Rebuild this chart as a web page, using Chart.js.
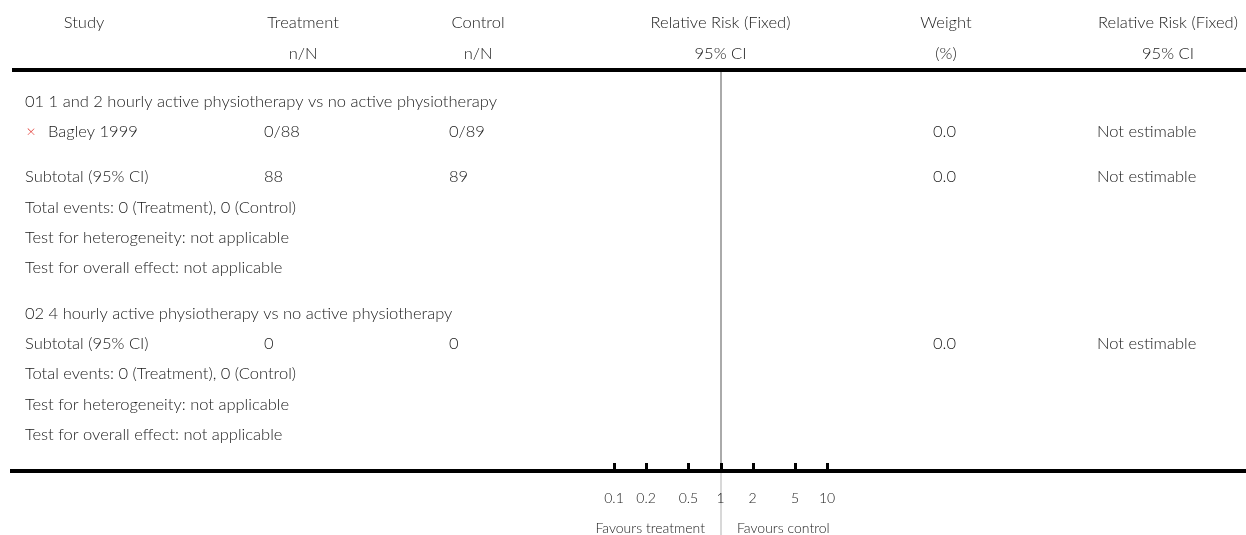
<!DOCTYPE html>
<html>
<head>
<meta charset="utf-8">
<script src="https://cdn.jsdelivr.net/npm/chart.js@4/dist/chart.umd.min.js"></script>
<style>
  html, body { margin: 0; padding: 0; background: #fff; }
  #wrap { width: 1246px; height: 535px; position: relative; }
</style>
</head>
<body>
<div id="wrap"><canvas id="c" width="1246" height="535"></canvas></div>
<script>
// ---- Data ----
const headers1 = ["Study", "Treatment", "Control", "Relative Risk (Fixed)", "Weight", "Relative Risk (Fixed)"];
const headers2 = ["", "n/N", "n/N", "95% CI", "(%)", "95% CI"];
const rowLabels = [
  "01 1 and 2 hourly active physiotherapy vs no active physiotherapy",
  "Bagley 1999",
  "Subtotal (95% CI)",
  "Total events: 0 (Treatment), 0 (Control)",
  "Test for heterogeneity: not applicable",
  "Test for overall effect: not applicable",
  "02 4 hourly active physiotherapy vs no active physiotherapy",
  "Subtotal (95% CI)",
  "Total events: 0 (Treatment), 0 (Control)",
  "Test for heterogeneity: not applicable",
  "Test for overall effect: not applicable"
];
const rowSlots = [1, 2, 3.5, 4.5, 5.5, 6.5, 8, 9, 10, 11, 12];
const rowIsStudy = [false, true, false, false, false, false, false, false, false, false, false];
const treatmentCol = ["", "0/88", "88", "", "", "", "", "0", "", "", ""];
const controlCol = ["", "0/89", "89", "", "", "", "", "0", "", "", ""];
const weightCol = ["", "0.0", "0.0", "", "", "", "", "0.0", "", "", ""];
const rrCol = ["", "Not estimable", "Not estimable", "", "", "", "", "Not estimable", "", "", ""];
const tickValues = [0.1, 0.2, 0.5, 1, 2, 5, 10];
const tickLabels = ["0.1", "0.2", "0.5", "1", "2", "5", "10"];
const favoursLeft = "Favours treatment";
const favoursRight = "Favours control";

// ---- Drawing ----
const FONT = "Lato, 'Open Sans', sans-serif";
const MAIN = "300 16.5px " + FONT;
const SMALL = "300 14px " + FONT;
const TEXT = "#1a1a1a";

const forestPlugin = {
  id: "forest",
  afterDraw(chart) {
    const ctx = chart.ctx;
    const xs = chart.scales.x, ys = chart.scales.y;
    ctx.save();
    ctx.fillStyle = TEXT;
    ctx.textBaseline = "middle";
    ctx.font = MAIN;

    // header
    const headCenters = [84, 303, 478, xs.getPixelForValue(1), 946, 1168];
    ctx.textAlign = "center";
    headers1.forEach((h, i) => ctx.fillText(h, headCenters[i], 23));
    headers2.forEach((h, i) => { if (h) ctx.fillText(h, headCenters[i], 54); });

    // thick rules
    ctx.fillStyle = "#000";
    ctx.fillRect(12, 68, 1234, 4);
    ctx.fillRect(10, 469, 1236, 4);

    // reference line at RR = 1
    const x1 = Math.round(xs.getPixelForValue(1));
    ctx.fillStyle = "#aaaaaa";
    ctx.fillRect(x1 - 1, 72, 2, 397);
    ctx.fillStyle = "#d8d8d8";
    ctx.fillRect(x1 - 1, 473, 2, 62);

    // tick marks
    ctx.fillStyle = "#000";
    tickValues.forEach(v => {
      const px = Math.round(xs.getPixelForValue(v));
      ctx.fillRect(px - 1, 463, 3, 7);
    });

    // rows
    ctx.textAlign = "left";
    ctx.font = MAIN;
    rowLabels.forEach((lab, i) => {
      const py = ys.getPixelForValue(rowSlots[i]) + 1;
      ctx.fillStyle = TEXT;
      if (rowIsStudy[i]) {
        ctx.fillStyle = "#e0302a";
        ctx.textAlign = "center";
        ctx.fillText("\u00D7", 31, py);
        ctx.textAlign = "left";
        ctx.fillStyle = TEXT;
        ctx.fillText(lab, 48, py);
      } else {
        ctx.fillText(lab, 25, py);
      }
      if (treatmentCol[i]) ctx.fillText(treatmentCol[i], 264, py);
      if (controlCol[i]) ctx.fillText(controlCol[i], 449, py);
      if (weightCol[i]) ctx.fillText(weightCol[i], 933, py);
      if (rrCol[i]) ctx.fillText(rrCol[i], 1097, py);
    });

    // tick labels
    ctx.font = SMALL;
    ctx.textAlign = "center";
    ctx.fillStyle = TEXT;
    tickValues.forEach((v, i) => {
      ctx.fillText(tickLabels[i], xs.getPixelForValue(v), 498);
    });
    ctx.textAlign = "right";
    ctx.fillText(favoursLeft, x1 - 16, 528);
    ctx.textAlign = "left";
    ctx.fillText(favoursRight, x1 + 16, 528);
    ctx.restore();
  }
};

new Chart(document.getElementById("c"), {
  type: "scatter",
  data: { datasets: [{ data: [], pointRadius: 0 }] },
  options: {
    responsive: false,
    animation: false,
    devicePixelRatio: 1,
    layout: { padding: { left: 614, right: 419, top: 70, bottom: 65 } },
    plugins: { legend: { display: false }, tooltip: { enabled: false } },
    scales: {
      x: { type: "logarithmic", min: 0.1, max: 10, display: false },
      y: { type: "linear", min: 0, max: 13.2, reverse: true, display: false }
    }
  },
  plugins: [forestPlugin]
});
</script>
</body>
</html>
